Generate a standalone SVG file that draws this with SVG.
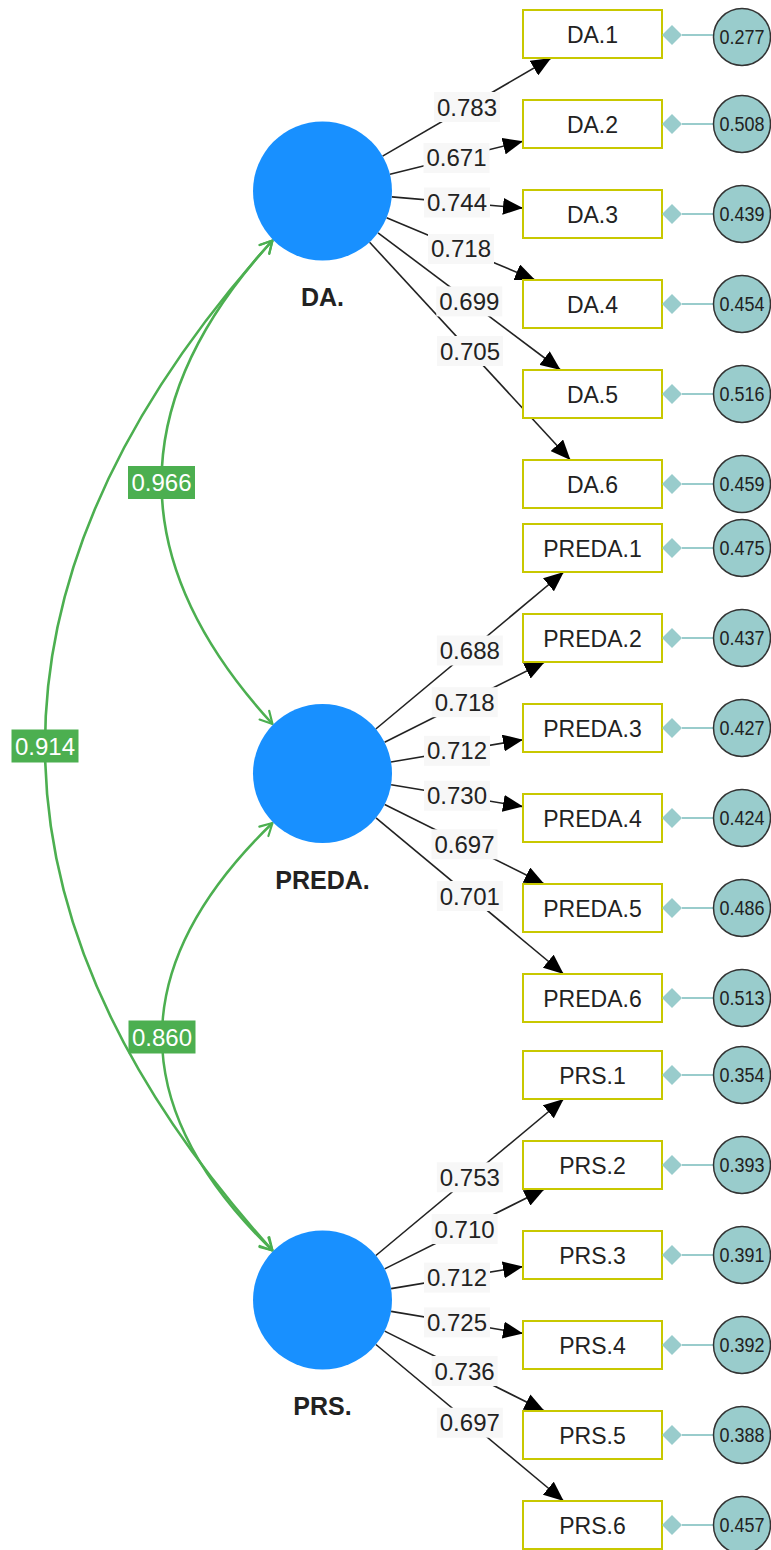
<svg xmlns="http://www.w3.org/2000/svg" width="771" height="1550" viewBox="0 0 771 1550">
<style>
  .latent { fill: #1890ff; }
  .latent-label { font-family: "Liberation Sans", Arial, sans-serif; font-size: 25px; font-weight: bold; fill: #222; text-anchor: middle; }
  .ind { fill: #ffffff; stroke: #c8c800; stroke-width: 2; }
  .ind-label { font-family: "Liberation Sans", Arial, sans-serif; font-size: 23px; fill: #222; text-anchor: middle; }
  .err { fill: #99cccc; stroke: #333; stroke-width: 1.5; }
  .err-link { stroke: #99cccc; stroke-width: 2; fill: none; }
  .err-dia { fill: #99cccc; }
  .err-label { font-family: "Liberation Sans", Arial, sans-serif; font-size: 20px; fill: #222; text-anchor: middle; }
  .load { stroke: #222; stroke-width: 1.6; fill: none; marker-end: url(#arrow); }
  .load-bg { fill: #f7f7f7; }
  .load-label { font-family: "Liberation Sans", Arial, sans-serif; font-size: 24px; fill: #222; text-anchor: middle; }
  .cov { stroke: #4caf50; stroke-width: 2.5; fill: none; marker-start: url(#chev); marker-end: url(#chev); }
  .cov-bg { fill: #4caf50; }
  .cov-label { font-family: "Liberation Sans", Arial, sans-serif; font-size: 24px; fill: #ffffff; text-anchor: middle; }
</style>
<defs>
  <marker id="arrow" markerUnits="userSpaceOnUse" markerWidth="20" markerHeight="17" refX="20" refY="8.5" orient="auto">
    <path d="M0,0 L20,8.5 L0,17 z" fill="#000"/>
  </marker>
  <marker id="chev" markerUnits="userSpaceOnUse" markerWidth="16" markerHeight="16" refX="13" refY="7" orient="auto-start-reverse" overflow="visible">
    <path d="M1,0.5 L13,7 L1,13.5" fill="none" stroke="#4caf50" stroke-width="2.2" stroke-linecap="round" stroke-linejoin="round"/>
  </marker>
</defs>

<!-- connectors: covariances and loadings -->
<g id="connectors">
  <path class="cov" d="M272.5,240.5 Q50.5,482.25 272.5,724"/>
  <path class="cov" d="M272.5,240.5 Q-182.5,745.5 272.5,1250.5"/>
  <path class="cov" d="M272.5,823 Q51.5,1036.75 272.5,1250.5"/>

  <!-- DA loadings -->
  <line class="load" x1="382.6" y1="156.1" x2="551.2" y2="58"/>
  <line class="load" x1="390" y1="174.3" x2="523" y2="141.3"/>
  <line class="load" x1="391.8" y1="196.9" x2="523" y2="208.1"/>
  <line class="load" x1="386.6" y1="217.8" x2="535.2" y2="280"/>
  <line class="load" x1="378" y1="232.8" x2="560.6" y2="370"/>
  <line class="load" x1="369.6" y1="242.2" x2="570.4" y2="460"/>
  <!-- PREDA loadings -->
  <line class="load" x1="375.8" y1="729" x2="563.8" y2="572"/>
  <line class="load" x1="384.6" y1="742.3" x2="544.7" y2="662"/>
  <line class="load" x1="391" y1="762" x2="523" y2="739.7"/>
  <line class="load" x1="391.1" y1="784.8" x2="523" y2="806.6"/>
  <line class="load" x1="384.7" y1="804.5" x2="544.3" y2="884"/>
  <line class="load" x1="376" y1="817.9" x2="563.6" y2="974"/>
  <!-- PRS loadings -->
  <line class="load" x1="375.9" y1="1255.5" x2="563.7" y2="1099"/>
  <line class="load" x1="384.7" y1="1268.9" x2="544.5" y2="1189"/>
  <line class="load" x1="391.1" y1="1288.6" x2="523" y2="1266.6"/>
  <line class="load" x1="391.1" y1="1311.4" x2="523" y2="1333.4"/>
  <line class="load" x1="384.7" y1="1331.1" x2="544.5" y2="1411"/>
  <line class="load" x1="375.9" y1="1344.5" x2="563.7" y2="1501"/>

  <!-- covariance labels -->
  <rect class="cov-bg" x="128" y="466" width="67" height="33"/>
  <text class="cov-label" x="161.5" y="491">0.966</text>
  <rect class="cov-bg" x="11.5" y="729.5" width="67" height="33"/>
  <text class="cov-label" x="45" y="754.5">0.914</text>
  <rect class="cov-bg" x="128.5" y="1020.5" width="67" height="33"/>
  <text class="cov-label" x="162" y="1045.5">0.860</text>

  <!-- loading labels -->
  <rect class="load-bg" x="434" y="92" width="66" height="30"/><text class="load-label" x="467" y="115.6">0.783</text>
  <rect class="load-bg" x="423.5" y="143" width="66" height="30"/><text class="load-label" x="456.5" y="166.3">0.671</text>
  <rect class="load-bg" x="424" y="187.5" width="66" height="30"/><text class="load-label" x="457" y="211">0.744</text>
  <rect class="load-bg" x="428" y="234" width="66" height="30"/><text class="load-label" x="461" y="257.4">0.718</text>
  <rect class="load-bg" x="436.3" y="286.4" width="66" height="30"/><text class="load-label" x="469.3" y="309.9">0.699</text>
  <rect class="load-bg" x="437" y="336" width="66" height="30"/><text class="load-label" x="470" y="359.6">0.705</text>

  <rect class="load-bg" x="436.8" y="635.5" width="66" height="30"/><text class="load-label" x="469.8" y="659">0.688</text>
  <rect class="load-bg" x="431.7" y="687.2" width="66" height="30"/><text class="load-label" x="464.7" y="710.7">0.718</text>
  <rect class="load-bg" x="424" y="735.8" width="66" height="30"/><text class="load-label" x="457" y="759.3">0.712</text>
  <rect class="load-bg" x="424" y="780.7" width="66" height="30"/><text class="load-label" x="457" y="804.2">0.730</text>
  <rect class="load-bg" x="431.5" y="829.3" width="66" height="30"/><text class="load-label" x="464.5" y="852.8">0.697</text>
  <rect class="load-bg" x="436.8" y="881" width="66" height="30"/><text class="load-label" x="469.8" y="904.5">0.701</text>

  <rect class="load-bg" x="436.8" y="1162.3" width="66" height="30"/><text class="load-label" x="469.8" y="1185.8">0.753</text>
  <rect class="load-bg" x="431.6" y="1214" width="66" height="30"/><text class="load-label" x="464.6" y="1237.5">0.710</text>
  <rect class="load-bg" x="424" y="1262.6" width="66" height="30"/><text class="load-label" x="457" y="1286.1">0.712</text>
  <rect class="load-bg" x="424" y="1307.4" width="66" height="30"/><text class="load-label" x="457" y="1330.9">0.725</text>
  <rect class="load-bg" x="431.6" y="1356" width="66" height="30"/><text class="load-label" x="464.6" y="1379.5">0.736</text>
  <rect class="load-bg" x="436.8" y="1407.7" width="66" height="30"/><text class="load-label" x="469.8" y="1431.2">0.697</text>
</g>

<!-- latent constructs -->
<g id="latent-DA">
  <circle class="latent" cx="322.5" cy="191" r="69.5"/>
  <text class="latent-label" x="322.5" y="306">DA.</text>
</g>
<g id="latent-PREDA">
  <circle class="latent" cx="322.5" cy="773.5" r="69.5"/>
  <text class="latent-label" x="322.5" y="889">PREDA.</text>
</g>
<g id="latent-PRS">
  <circle class="latent" cx="322.5" cy="1300" r="69.5"/>
  <text class="latent-label" x="322.5" y="1415">PRS.</text>
</g>

<!-- indicators with error terms -->
<g id="DA.1"><rect class="ind" x="523" y="10" width="139" height="48"/><text class="ind-label" x="592.5" y="42.5">DA.1</text>
  <line class="err-link" x1="682" y1="35" x2="713.5" y2="35"/><path class="err-dia" d="M662,35 L672,25 L682,35 L672,45 z"/>
  <circle class="err" cx="742" cy="37" r="28.5"/><text class="err-label" x="742" y="44" textLength="45" lengthAdjust="spacingAndGlyphs">0.277</text></g>
<g id="DA.2"><rect class="ind" x="523" y="100" width="139" height="48"/><text class="ind-label" x="592.5" y="132.5">DA.2</text>
  <line class="err-link" x1="682" y1="124" x2="713.5" y2="124"/><path class="err-dia" d="M662,124 L672,114 L682,124 L672,134 z"/>
  <circle class="err" cx="742" cy="124" r="28.5"/><text class="err-label" x="742" y="131" textLength="45" lengthAdjust="spacingAndGlyphs">0.508</text></g>
<g id="DA.3"><rect class="ind" x="523" y="190" width="139" height="48"/><text class="ind-label" x="592.5" y="222.5">DA.3</text>
  <line class="err-link" x1="682" y1="214" x2="713.5" y2="214"/><path class="err-dia" d="M662,214 L672,204 L682,214 L672,224 z"/>
  <circle class="err" cx="742" cy="214" r="28.5"/><text class="err-label" x="742" y="221" textLength="45" lengthAdjust="spacingAndGlyphs">0.439</text></g>
<g id="DA.4"><rect class="ind" x="523" y="280" width="139" height="48"/><text class="ind-label" x="592.5" y="312.5">DA.4</text>
  <line class="err-link" x1="682" y1="304" x2="713.5" y2="304"/><path class="err-dia" d="M662,304 L672,294 L682,304 L672,314 z"/>
  <circle class="err" cx="742" cy="304" r="28.5"/><text class="err-label" x="742" y="311" textLength="45" lengthAdjust="spacingAndGlyphs">0.454</text></g>
<g id="DA.5"><rect class="ind" x="523" y="370" width="139" height="48"/><text class="ind-label" x="592.5" y="402.5">DA.5</text>
  <line class="err-link" x1="682" y1="394" x2="713.5" y2="394"/><path class="err-dia" d="M662,394 L672,384 L682,394 L672,404 z"/>
  <circle class="err" cx="742" cy="394" r="28.5"/><text class="err-label" x="742" y="401" textLength="45" lengthAdjust="spacingAndGlyphs">0.516</text></g>
<g id="DA.6"><rect class="ind" x="523" y="460" width="139" height="48"/><text class="ind-label" x="592.5" y="492.5">DA.6</text>
  <line class="err-link" x1="682" y1="484" x2="713.5" y2="484"/><path class="err-dia" d="M662,484 L672,474 L682,484 L672,494 z"/>
  <circle class="err" cx="742" cy="484" r="28.5"/><text class="err-label" x="742" y="491" textLength="45" lengthAdjust="spacingAndGlyphs">0.459</text></g>

<g id="PREDA.1"><rect class="ind" x="523" y="524" width="139" height="48"/><text class="ind-label" x="592.5" y="556.5">PREDA.1</text>
  <line class="err-link" x1="682" y1="548" x2="713.5" y2="548"/><path class="err-dia" d="M662,548 L672,538 L682,548 L672,558 z"/>
  <circle class="err" cx="742" cy="548" r="28.5"/><text class="err-label" x="742" y="555" textLength="45" lengthAdjust="spacingAndGlyphs">0.475</text></g>
<g id="PREDA.2"><rect class="ind" x="523" y="614" width="139" height="48"/><text class="ind-label" x="592.5" y="646.5">PREDA.2</text>
  <line class="err-link" x1="682" y1="638" x2="713.5" y2="638"/><path class="err-dia" d="M662,638 L672,628 L682,638 L672,648 z"/>
  <circle class="err" cx="742" cy="638" r="28.5"/><text class="err-label" x="742" y="645" textLength="45" lengthAdjust="spacingAndGlyphs">0.437</text></g>
<g id="PREDA.3"><rect class="ind" x="523" y="704" width="139" height="48"/><text class="ind-label" x="592.5" y="736.5">PREDA.3</text>
  <line class="err-link" x1="682" y1="728" x2="713.5" y2="728"/><path class="err-dia" d="M662,728 L672,718 L682,728 L672,738 z"/>
  <circle class="err" cx="742" cy="728" r="28.5"/><text class="err-label" x="742" y="735" textLength="45" lengthAdjust="spacingAndGlyphs">0.427</text></g>
<g id="PREDA.4"><rect class="ind" x="523" y="794" width="139" height="48"/><text class="ind-label" x="592.5" y="826.5">PREDA.4</text>
  <line class="err-link" x1="682" y1="818" x2="713.5" y2="818"/><path class="err-dia" d="M662,818 L672,808 L682,818 L672,828 z"/>
  <circle class="err" cx="742" cy="818" r="28.5"/><text class="err-label" x="742" y="825" textLength="45" lengthAdjust="spacingAndGlyphs">0.424</text></g>
<g id="PREDA.5"><rect class="ind" x="523" y="884" width="139" height="48"/><text class="ind-label" x="592.5" y="916.5">PREDA.5</text>
  <line class="err-link" x1="682" y1="908" x2="713.5" y2="908"/><path class="err-dia" d="M662,908 L672,898 L682,908 L672,918 z"/>
  <circle class="err" cx="742" cy="908" r="28.5"/><text class="err-label" x="742" y="915" textLength="45" lengthAdjust="spacingAndGlyphs">0.486</text></g>
<g id="PREDA.6"><rect class="ind" x="523" y="974" width="139" height="48"/><text class="ind-label" x="592.5" y="1006.5">PREDA.6</text>
  <line class="err-link" x1="682" y1="998" x2="713.5" y2="998"/><path class="err-dia" d="M662,998 L672,988 L682,998 L672,1008 z"/>
  <circle class="err" cx="742" cy="998" r="28.5"/><text class="err-label" x="742" y="1005" textLength="45" lengthAdjust="spacingAndGlyphs">0.513</text></g>

<g id="PRS.1"><rect class="ind" x="523" y="1051" width="139" height="48"/><text class="ind-label" x="592.5" y="1083.5">PRS.1</text>
  <line class="err-link" x1="682" y1="1075" x2="713.5" y2="1075"/><path class="err-dia" d="M662,1075 L672,1065 L682,1075 L672,1085 z"/>
  <circle class="err" cx="742" cy="1075" r="28.5"/><text class="err-label" x="742" y="1082" textLength="45" lengthAdjust="spacingAndGlyphs">0.354</text></g>
<g id="PRS.2"><rect class="ind" x="523" y="1141" width="139" height="48"/><text class="ind-label" x="592.5" y="1173.5">PRS.2</text>
  <line class="err-link" x1="682" y1="1165" x2="713.5" y2="1165"/><path class="err-dia" d="M662,1165 L672,1155 L682,1165 L672,1175 z"/>
  <circle class="err" cx="742" cy="1165" r="28.5"/><text class="err-label" x="742" y="1172" textLength="45" lengthAdjust="spacingAndGlyphs">0.393</text></g>
<g id="PRS.3"><rect class="ind" x="523" y="1231" width="139" height="48"/><text class="ind-label" x="592.5" y="1263.5">PRS.3</text>
  <line class="err-link" x1="682" y1="1255" x2="713.5" y2="1255"/><path class="err-dia" d="M662,1255 L672,1245 L682,1255 L672,1265 z"/>
  <circle class="err" cx="742" cy="1255" r="28.5"/><text class="err-label" x="742" y="1262" textLength="45" lengthAdjust="spacingAndGlyphs">0.391</text></g>
<g id="PRS.4"><rect class="ind" x="523" y="1321" width="139" height="48"/><text class="ind-label" x="592.5" y="1353.5">PRS.4</text>
  <line class="err-link" x1="682" y1="1345" x2="713.5" y2="1345"/><path class="err-dia" d="M662,1345 L672,1335 L682,1345 L672,1355 z"/>
  <circle class="err" cx="742" cy="1345" r="28.5"/><text class="err-label" x="742" y="1352" textLength="45" lengthAdjust="spacingAndGlyphs">0.392</text></g>
<g id="PRS.5"><rect class="ind" x="523" y="1411" width="139" height="48"/><text class="ind-label" x="592.5" y="1443.5">PRS.5</text>
  <line class="err-link" x1="682" y1="1435" x2="713.5" y2="1435"/><path class="err-dia" d="M662,1435 L672,1425 L682,1435 L672,1445 z"/>
  <circle class="err" cx="742" cy="1435" r="28.5"/><text class="err-label" x="742" y="1442" textLength="45" lengthAdjust="spacingAndGlyphs">0.388</text></g>
<g id="PRS.6"><rect class="ind" x="523" y="1501" width="139" height="48"/><text class="ind-label" x="592.5" y="1533.5">PRS.6</text>
  <line class="err-link" x1="682" y1="1525" x2="713.5" y2="1525"/><path class="err-dia" d="M662,1525 L672,1515 L682,1525 L672,1535 z"/>
  <circle class="err" cx="742" cy="1525" r="28.5"/><text class="err-label" x="742" y="1532" textLength="45" lengthAdjust="spacingAndGlyphs">0.457</text></g>
</svg>
